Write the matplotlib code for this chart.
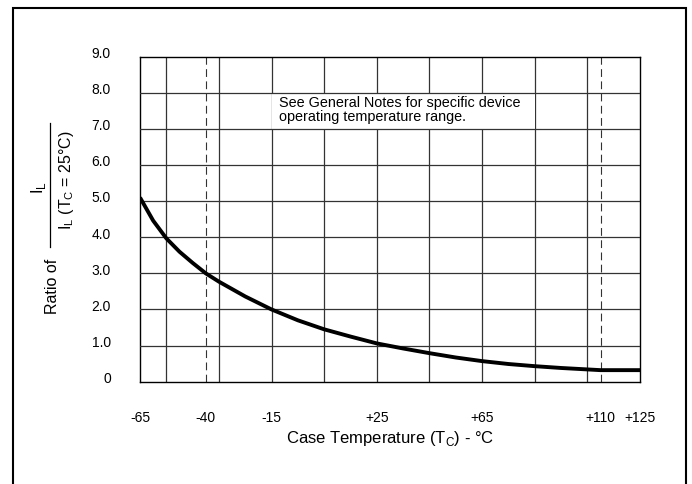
import matplotlib.pyplot as plt
from matplotlib.patches import Rectangle
from matplotlib.lines import Line2D
from matplotlib.transforms import ScaledTranslation

plt.rcParams['font.family'] = ['Liberation Sans', 'DejaVu Sans']

# curve
temp = [-65, -60, -55, -50, -45, -40, -35, -25, -15, -5, 5, 15, 25,
        35, 45, 55, 65, 75, 85, 95, 105, 110, 125]
ratio = [5.10, 4.46, 3.97, 3.60, 3.29, 3.00, 2.77, 2.36, 2.00, 1.70, 1.45,
         1.25, 1.06, 0.92, 0.79, 0.67, 0.57, 0.49, 0.43, 0.38, 0.34, 0.32, 0.32]

x_ticks = [-65, -40, -15, 25, 65, 110, 125]
x_tick_labels = ['-65', '-40', '-15', '+25', '+65', '+110', '+125']
y_ticks = [0, 1, 2, 3, 4, 5, 6, 7, 8, 9]
y_tick_labels = ['0', '1.0', '2.0', '3.0', '4.0', '5.0', '6.0', '7.0', '8.0', '9.0']
grid_x = [-55, -35, -15, 5, 25, 45, 65, 85, 105]
dashed_x = [-40, 110]
note = 'See General Notes for specific device\noperating temperature range.'

W, H = 692, 484
fig = plt.figure(figsize=(W / 100, H / 100), dpi=100)
ax = fig.add_axes([140 / W, 1 - 381.7 / H, 500 / W, (381.7 - 56.7) / H])

# grid: verticals under the note box, horizontals over it
for gx in grid_x:
    ax.axvline(gx, color='#333333', lw=0.9, zorder=1)
for dx in dashed_x:
    ax.axvline(dx, color='#333333', lw=0.8, dashes=(7, 4), zorder=1)
ax.add_patch(Rectangle((-15, 7), 100, 1, facecolor='white', edgecolor='none', zorder=2))
for gy in y_ticks[1:-1]:
    ax.axhline(gy, color='#333333', lw=0.9, zorder=3)

ax.plot(temp, ratio, color='black', lw=2.8, solid_capstyle='butt',
        solid_joinstyle='round', zorder=4)

ax.text(-12, 7.53, note, fontsize=10.4, va='center', ha='left',
        linespacing=1.05, zorder=5)

ax.set_xlim(-65, 125)
ax.set_ylim(0, 9)
ax.set_xticks(x_ticks)
ax.set_xticklabels(x_tick_labels, fontsize=10)
ax.set_yticks(y_ticks)
ax.set_yticklabels(y_tick_labels, fontsize=10)
ax.tick_params(axis='both', length=0)
ax.tick_params(axis='y', pad=21)
ax.tick_params(axis='x', pad=21)
for lab in ax.get_yticklabels():
    lab.set_transform(lab.get_transform() + ScaledTranslation(0, 3 / 72, fig.dpi_scale_trans))
for s in ax.spines.values():
    s.set_linewidth(1.0)

# axis titles
fig.text(390 / W, 1 - 443 / H, r'Case Temperature (T$_\mathregular{C}$) - °C',
         fontsize=12, ha='center', va='baseline')
fig.text(52.5 / W, 1 - 286 / H, 'Ratio of', fontsize=11.5, rotation=90,
         ha='center', va='center')
fig.text(38 / W, 1 - 188 / H, r'I$_\mathregular{L}$', fontsize=12, rotation=90,
         ha='center', va='center')
fig.text(66 / W, 1 - 180 / H, r'I$_\mathregular{L}$ (T$_\mathregular{C}$ = 25°C)',
         fontsize=11.5, rotation=90, ha='center', va='center')
fig.add_artist(Line2D([50 / W, 50 / W], [1 - 123 / H, 1 - 247 / H],
                      color='black', lw=0.9, transform=fig.transFigure))

# outer frame (open at the bottom)
fig.add_artist(Rectangle((13 / W, -0.1), (686 - 13) / W, 1.1 - 8 / H,
                         fill=False, lw=1.5, edgecolor='black',
                         transform=fig.transFigure))

fig.savefig('out.png', dpi=100)
